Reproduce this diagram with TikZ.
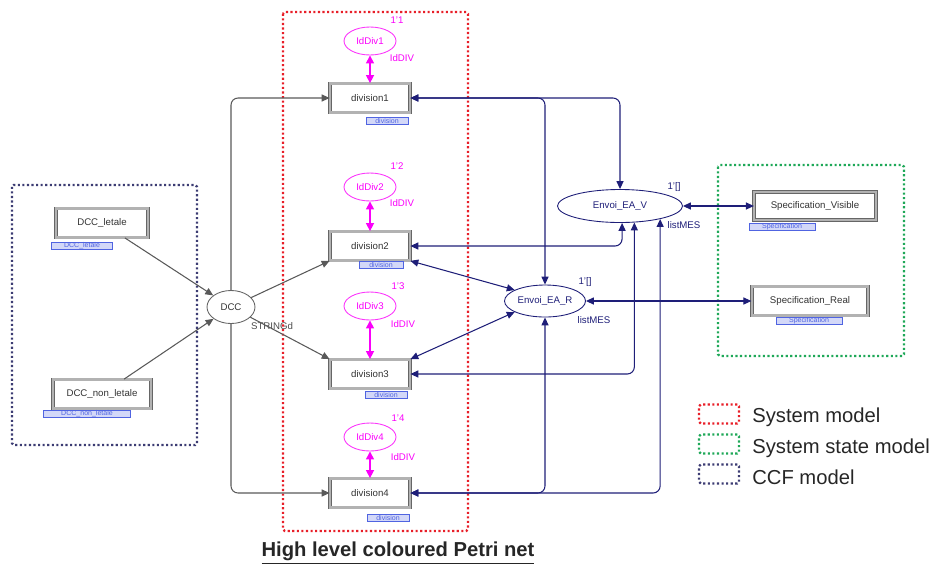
\documentclass[tikz,border=0pt]{standalone}
\usepackage{fontspec}
\setmainfont{Liberation Sans}
\usepackage{tikz}
\usetikzlibrary{shapes.geometric,arrows.meta}
\definecolor{sysred}{RGB}{232,30,40}
\definecolor{stategreen}{RGB}{30,168,88}
\definecolor{ccfnavy}{RGB}{60,60,115}
\definecolor{arcnavy}{RGB}{30,30,120}
\definecolor{tagblue}{RGB}{80,100,225}
\definecolor{idpink}{RGB}{250,0,250}
\newcommand{\cpnfont}{\fontsize{5.5}{6.5}\selectfont}
\tikzstyle{trans} = [draw=black!60,double=black!30,double distance=1.3pt,line width=0.45pt,fill=white,font=\cpnfont,text=black!80,inner sep=0pt,minimum width=16mm,minimum height=5.8mm]
\tikzstyle{tag} = [draw=tagblue,fill=tagblue!25,text=tagblue,font=\fontsize{4}{4}\selectfont,inner sep=0pt,minimum height=1.5mm,minimum width=8.4mm]
\tikzstyle{place} = [draw=black!60,ellipse,line width=0.5pt,font=\cpnfont,text=black!80,inner sep=0pt]
\tikzstyle{idplace} = [place,draw=idpink!80,text=idpink,minimum width=10.4mm,minimum height=5.6mm]
\tikzstyle{msgplace} = [place,draw=arcnavy,text=arcnavy]
\tikzstyle{lbl} = [font=\cpnfont,inner sep=0pt]
\tikzstyle{idlbl} = [lbl,text=idpink]
\tikzstyle{msglbl} = [lbl,text=arcnavy]
\tikzstyle{arrow} = [->,>={Triangle[length=4.5pt,width=4pt]},black!65,line width=0.6pt,rounded corners=4pt]
\tikzstyle{idarrow} = [<->,>={Triangle[length=4.5pt,width=4.5pt]},idpink,line width=0.8pt]
\tikzstyle{msgarrow} = [<->,>={Triangle[length=4.5pt,width=4pt]},arcnavy,line width=0.6pt,rounded corners=4pt]
\tikzstyle{frame} = [line width=1.3pt,dash pattern=on 1.2pt off 1.4pt,rounded corners=1pt]
\tikzstyle{legbox} = [frame,minimum width=8mm,minimum height=3.8mm,inner sep=0pt]
\tikzstyle{legtext} = [anchor=west,font=\fontsize{11.5}{13}\selectfont,text=black!85,inner sep=0pt]

\begin{document}
\begin{tikzpicture}[x=0.2mm,y=-0.2mm]
  \useasboundingbox (0,0) rectangle (940,572);

  \draw[frame, draw=ccfnavy] (12,185) rectangle (197,445);
  \draw[frame, draw=sysred] (283,12) rectangle (468,531);
  \draw[frame, draw=stategreen] (718,165) rectangle (904,356);

  \node[trans, minimum width=18.3mm] (dl) at (102,223) {DCC\_letale};
  \node[tag, minimum width=12.2mm] (dltag) at (82,246) {DCC\_letale};
  \node[trans, minimum width=19.5mm] (dnl) at (102,394) {DCC\_non\_letale};
  \node[tag, minimum width=17.4mm] (dnltag) at (87,414) {DCC\_non\_letale};
  \node[place, minimum width=9.6mm, minimum height=6.6mm] (dcc) at (231,307) {DCC};
  \node[lbl, text=black!70] (dcctype) at (272,326) {STRINGd};

  \node[idplace] (id1) at (370,41) {IdDiv1};
  \node[idlbl] (id1mark) at (397,20) {1'1};
  \node[idlbl] (id1type) at (402,58) {IdDIV};
  \node[trans] (div1) at (370,98) {division1};
  \node[tag] (div1tag) at (387,121) {division};

  \node[idplace] (id2) at (370,187) {IdDiv2};
  \node[idlbl] (id2mark) at (397,166) {1'2};
  \node[idlbl] (id2type) at (402,203) {IdDIV};
  \node[trans] (div2) at (370,246) {division2};
  \node[tag, minimum width=8.8mm] (div2tag) at (381,265) {division};

  \node[idplace] (id3) at (370,306) {IdDiv3};
  \node[idlbl] (id3mark) at (398,286) {1'3};
  \node[idlbl] (id3type) at (403,324) {IdDIV};
  \node[trans] (div3) at (370,374) {division3};
  \node[tag] (div3tag) at (386,395) {division};

  \node[idplace] (id4) at (370,437) {IdDiv4};
  \node[idlbl] (id4mark) at (398,418) {1'4};
  \node[idlbl] (id4type) at (403,457) {IdDIV};
  \node[trans] (div4) at (370,493) {division4};
  \node[tag] (div4tag) at (388,518) {division};

  \node[msgplace, minimum width=25mm, minimum height=6.6mm] (eav) at (620,206) {Envoi\_EA\_V};
  \node[msglbl] (eavmark) at (674,187) {1'[]};
  \node[msglbl] (eavtype) at (684,225) {listMES};
  \node[msgplace, minimum width=16.2mm, minimum height=6.4mm] (ear) at (545,301) {Envoi\_EA\_R};
  \node[msglbl] (earmark) at (585,282) {1'[]};
  \node[msglbl] (eartype) at (594,320) {listMES};

  \node[trans, minimum width=24.3mm, minimum height=5.6mm] (specv) at (815,206) {Specification\_Visible};
  \node[tag, minimum width=13.2mm] (specvtag) at (782,227) {Specification};
  \node[trans, minimum width=23.3mm] (specr) at (810,301) {Specification\_Real};
  \node[tag, minimum width=13.2mm] (specrtag) at (809,321) {Specification};

  \draw[arrow] (dl) -- (dcc);
  \draw[arrow] (dnl) -- (dcc);
  \draw[arrow] (dcc.north) |- (div1.west);
  \draw[arrow] (dcc) -- (div2.south west);
  \draw[arrow] (dcc) -- (div3.north west);
  \draw[arrow] (dcc.south) |- (div4.west);

  \draw[idarrow] (id1) -- (div1);
  \draw[idarrow] (id2) -- (div2);
  \draw[idarrow] (id3) -- (div3);
  \draw[idarrow] (id4) -- (div4);

  \draw[msgarrow] (div1.east) -| (eav.north);
  \draw[msgarrow] (div1.east) -| (ear.north);
  \draw[msgarrow] (div2.east) -| (eav.-83);
  \draw[msgarrow] (div2.south east) -- (ear.160);
  \draw[msgarrow] (div3.north east) -- (ear.200);
  \draw[msgarrow] (div3.east) -| (eav.-49);
  \draw[msgarrow] (div4.east) -| (ear.south);
  \draw[msgarrow] (div4.east) -| (eav.-18);
  \draw[msgarrow] (eav) -- (specv);
  \draw[msgarrow] (ear) -- (specr);

  \node[legbox, draw=sysred] (legsys) at (719,414) {};
  \node[legtext] (legsystxt) at (752,417) {System model};
  \node[legbox, draw=stategreen] (legstate) at (719,444) {};
  \node[legtext] (legstatetxt) at (752,448) {System state model};
  \node[legbox, draw=ccfnavy] (legccf) at (719,474) {};
  \node[legtext] (legccftxt) at (752,477) {CCF model};

  \node[font=\bfseries\fontsize{11.5}{13}\selectfont, text=black!85] (title) at (398,553) {\underline{High level coloured Petri net}};
\end{tikzpicture}
\end{document}
